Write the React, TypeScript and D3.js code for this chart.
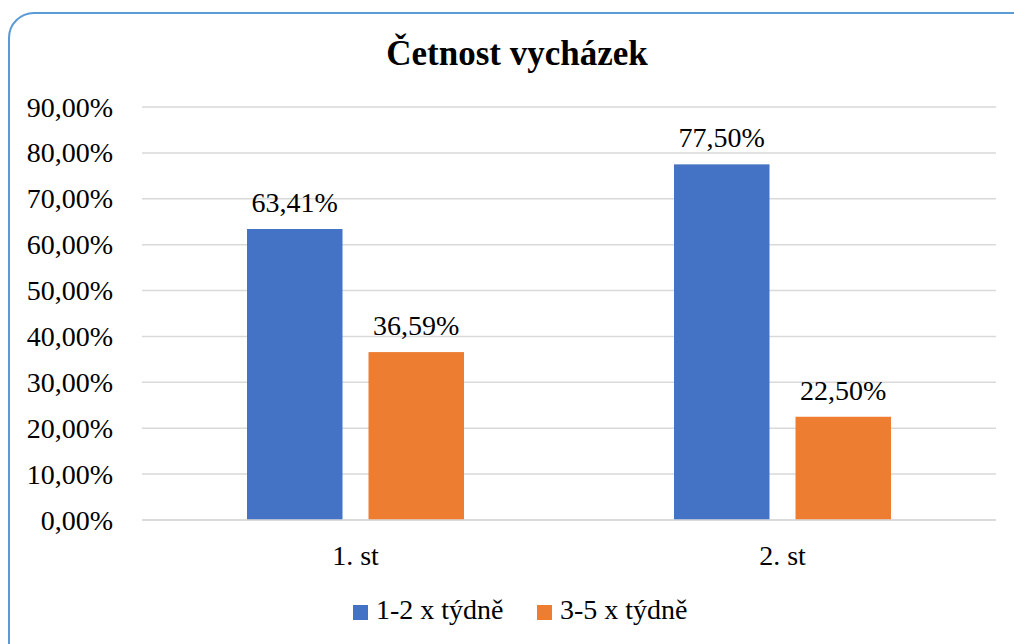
import React, { useEffect, useRef } from "react";
import * as d3 from "d3";

const categories = ["1. st", "2. st"];
const seriesNames = ["1-2 x týdně", "3-5 x týdně"];
const seriesColors = ["#4472C4", "#ED7D31"];
const values = [
  [63.41, 36.59],
  [77.5, 22.5],
];
const yTicks = [0, 10, 20, 30, 40, 50, 60, 70, 80, 90];
const title = "Četnost vycházek";

const fmt = (v: number) => v.toFixed(2).replace(".", ",") + "%";

export default function App() {
  const ref = useRef<SVGSVGElement | null>(null);

  useEffect(() => {
    const width = 1014;
    const height = 644;
    const font = "'Liberation Serif', 'Times New Roman', serif";
    const margin = { top: 107, right: 18, bottom: 124, left: 142 };
    const w = width - margin.left - margin.right;
    const h = height - margin.top - margin.bottom;

    const svg = d3.select(ref.current);
    svg.selectAll("*").remove();
    svg.attr("width", width).attr("height", height).attr("viewBox", `0 0 ${width} ${height}`);

    // chart frame, right and bottom corners fall off the page
    svg.append("rect")
      .attr("x", 9).attr("y", 13).attr("width", 1030).attr("height", 660)
      .attr("rx", 25).attr("ry", 25)
      .attr("fill", "#fff").attr("stroke", "#5B9BD5").attr("stroke-width", 2);

    svg.append("text")
      .attr("x", 517).attr("y", 65).attr("text-anchor", "middle")
      .style("font-family", font).style("font-size", "35px").style("font-weight", "bold")
      .text(title);

    const g = svg.append("g").attr("transform", `translate(${margin.left},${margin.top})`);

    const y = d3.scaleLinear().domain([0, 90]).range([h, 0]);
    const x0 = d3.scaleBand().domain(categories).range([0, w]);
    const x1 = d3.scaleBand().domain(seriesNames).range([105, x0.bandwidth() - 105]).paddingInner(0.214);

    // gridlines
    g.selectAll("line.grid").data(yTicks).enter().append("line")
      .attr("x1", 0).attr("x2", w)
      .attr("y1", d => y(d)).attr("y2", d => y(d))
      .attr("stroke", "#D9D9D9").attr("stroke-width", 1.5);

    g.selectAll("text.ytick").data(yTicks).enter().append("text")
      .attr("x", -29).attr("y", d => y(d) + 9.5)
      .attr("text-anchor", "end")
      .style("font-family", font).style("font-size", "28px").attr("fill", "#000")
      .text(d => fmt(d));

    const groups = g.selectAll("g.cat").data(categories).enter().append("g")
      .attr("transform", d => `translate(${x0(d)},0)`);

    groups.selectAll("rect").data((d, i) => values[i].map((v, j) => ({ v, j })))
      .enter().append("rect")
      .attr("x", d => x1(seriesNames[d.j]) as number)
      .attr("width", x1.bandwidth())
      .attr("y", d => y(d.v))
      .attr("height", d => h - y(d.v))
      .attr("fill", d => seriesColors[d.j]);

    groups.selectAll("text.lbl").data((d, i) => values[i].map((v, j) => ({ v, j })))
      .enter().append("text")
      .attr("x", d => (x1(seriesNames[d.j]) as number) + x1.bandwidth() / 2)
      .attr("y", d => y(d.v) - 17)
      .attr("text-anchor", "middle")
      .style("font-family", font).style("font-size", "28px")
      .text(d => fmt(d.v));

    // x axis line
    g.append("line").attr("x1", 0).attr("x2", w).attr("y1", h).attr("y2", h)
      .attr("stroke", "#D9D9D9").attr("stroke-width", 1.5);

    g.selectAll("text.xtick").data(categories).enter().append("text")
      .attr("x", d => (x0(d) as number) + x0.bandwidth() / 2)
      .attr("y", h + 45)
      .attr("text-anchor", "middle")
      .style("font-family", font).style("font-size", "28px")
      .text(d => d);

    // legend
    const legendX = [353, 537];
    const lg = svg.append("g");
    seriesNames.forEach((s, i) => {
      lg.append("rect").attr("x", legendX[i]).attr("y", 605).attr("width", 15).attr("height", 15)
        .attr("fill", seriesColors[i]);
      lg.append("text").attr("x", legendX[i] + 23).attr("y", 619)
        .style("font-family", font).style("font-size", "28px")
        .text(s);
    });
  }, []);

  return <svg ref={ref} style={{ position: "absolute", left: 0, top: 0, display: "block" }} />;
}
